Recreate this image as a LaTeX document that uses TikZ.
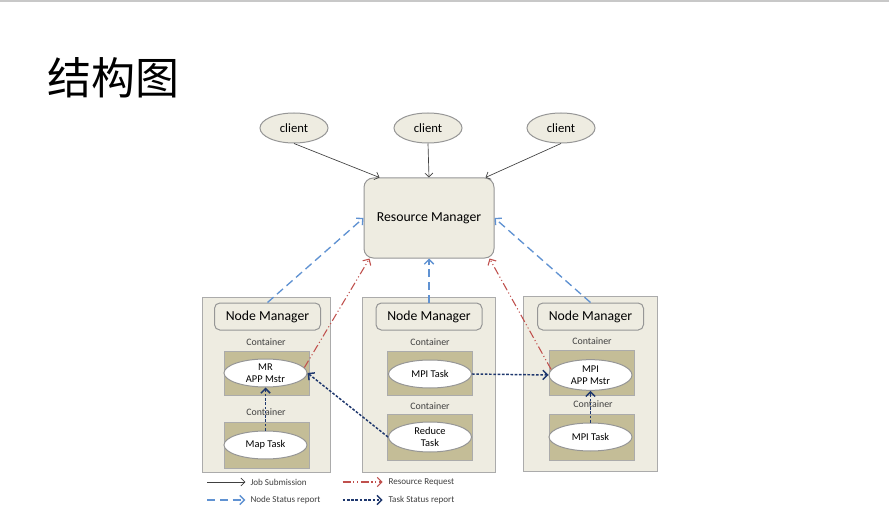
\documentclass[tikz,border=0pt]{standalone}
\usepackage{fontspec}
\setmainfont{Carlito}
\newfontfamily\cjk{Noto Sans CJK SC}
\usepackage{tikz}
\usetikzlibrary{shapes.geometric, arrows.meta}
\usetikzlibrary{positioning}
\definecolor{paneltan}{RGB}{238,236,225}
\definecolor{boxtan}{RGB}{196,189,151}
\definecolor{edgegray}{RGB}{150,150,150}
\definecolor{statusblue}{RGB}{96,146,210}
\definecolor{requestred}{RGB}{192,80,77}
\definecolor{tasknavy}{RGB}{31,56,110}
\definecolor{jobgray}{RGB}{64,64,64}
\tikzset{every picture/.style={line width=0.75pt}}
\tikzset{
  client/.style={ellipse, draw=edgegray, fill=paneltan, minimum width=51pt, minimum height=22.5pt, inner sep=0pt, font=\fontsize{9.5}{11}\selectfont},
  manager/.style={draw=edgegray, fill=paneltan, rounded corners=7pt, minimum width=97.5pt, minimum height=60pt, font=\fontsize{10.3}{12}\selectfont},
  nodebox/.style={draw=edgegray!80, fill=paneltan, line width=0.6pt, minimum height=131.25pt},
  nmhead/.style={draw=edgegray, fill=paneltan, rounded corners=4pt, minimum width=79.5pt, minimum height=20.25pt, font=\fontsize{10.3}{12}\selectfont},
  cbox/.style={draw=edgegray!80, fill=boxtan, minimum width=63.75pt, minimum height=33pt},
  task/.style={ellipse, draw=edgegray, fill=white, minimum width=62.25pt, minimum height=21pt, inner sep=0pt, align=center, font=\fontsize{7.8}{8.6}\selectfont},
  clabel/.style={inner sep=0pt, font=\fontsize{7.4}{8}\selectfont, text=jobgray},
  legend/.style={anchor=west, inner sep=0pt, font=\fontsize{6.8}{7}\selectfont, text=jobgray},
  job/.style={draw=jobgray, line width=0.5pt, -{Straight Barb[length=3pt,width=6pt]}},
  nstatus/.style={draw=statusblue, line width=1pt, dash pattern=on 6pt off 3.5pt, -{Straight Barb[length=3.5pt,width=7pt]}},
  request/.style={draw=requestred, line width=0.8pt, dash pattern=on 6pt off 2pt on 0.8pt off 2pt on 0.8pt off 2pt, -{Straight Barb[length=3.5pt,width=7pt]}},
  tstatus/.style={draw=tasknavy, line width=1.1pt, dash pattern=on 2pt off 1.2pt, -{Straight Barb[length=3.5pt,width=7pt]}},
}

\begin{document}
\begin{tikzpicture}[x=0.75pt,y=0.75pt,yscale=-1,xscale=1]
\useasboundingbox (0,0) rectangle (889,524);

%Shape: Rectangle [top rule]
\fill [white] (0,0) rectangle (889,524);
\fill [color={rgb, 255:red, 200; green, 200; blue, 200 }] (0,0) rectangle (889,2);

% Text Node
\node [anchor=west, inner sep=0pt, font=\cjk\fontsize{33}{33}\selectfont] (title) at (47,78) {结构图};

%Shape: Ellipse [clients]
\node [client] (cl1) at (294,128) {client};
\node [client] (cl2) at (428,128) {client};
\node [client] (cl3) at (561,128) {client};

%Shape: Rectangle [resource manager]
\node [manager] (rm) at (429,218) {Resource Manager};

%Shape: Rectangle [node manager frames]
\node [nodebox, minimum width=96pt] (nm1) at (266,384.5) {};
\node [nodebox, minimum width=99.75pt] (nm2) at (428.5,384.5) {};
\node [nodebox, minimum width=100.5pt] (nm3) at (590,384) {};

%Shape: Rectangle [node manager heads]
\node [nmhead] (nmh1) at (267.5,316.5) {Node Manager};
\node [nmhead] (nmh2) at (429,316.5) {Node Manager};
\node [nmhead] (nmh3) at (590.5,316.5) {Node Manager};

% Text Node
\node [clabel] (lbl1a) at (266,342) {Container};
\node [clabel] (lbl1b) at (266,412) {Container};
\node [clabel] (lbl2a) at (430,342) {Container};
\node [clabel] (lbl2b) at (430,406) {Container};
\node [clabel] (lbl3a) at (592,341) {Container};
\node [clabel] (lbl3b) at (593,404) {Container};

%Shape: Rectangle [containers]
\node [cbox] (ct1) at (266.5,373) {};
\node [cbox, minimum height=34.5pt] (cb1) at (266.5,445) {};
\node [cbox] (ct2) at (430,373) {};
\node [cbox, minimum height=34.5pt] (cb2) at (430,437) {};
\node [cbox, minimum height=33.75pt] (ct3) at (591.5,372.5) {};
\node [cbox, minimum height=34.5pt] (cb3) at (591.5,437) {};

%Shape: Ellipse [tasks]
\node [task] (mram) at (265.5,373) {MR\\APP Mstr};
\node [task] (maptask) at (265.5,445) {Map Task};
\node [task] (mpitask) at (430,374) {MPI Task};
\node [task, minimum height=22.5pt] (reduce) at (430,437) {Reduce\\Task};
\node [task, minimum height=23pt] (mpiam) at (590.5,375) {MPI\\APP Mstr};
\node [task] (mpitask2) at (590.5,437) {MPI Task};

%Straight Lines [job submission]
\draw [job] (cl1.south) -- ([xshift=12pt]rm.north west);
\draw [job] (cl2.south) -- (rm.north);
\draw [job] (cl3.south) -- ([xshift=-6.75pt]rm.north east);

%Straight Lines [node status]
\draw [nstatus] (nmh1.north) -- (rm.west);
\draw [nstatus] (nmh2.north) -- (rm.south);
\draw [nstatus] (nmh3.north) -- (rm.east);

%Straight Lines [resource request]
\draw [request] (mram.8) -- ([xshift=4.5pt]rm.south west);
\draw [request] (mpiam.172) -- ([xshift=-3.75pt]rm.south east);

%Straight Lines [task status]
\draw [tstatus] (maptask.north) -- (mram.south);
\draw [tstatus] (reduce.west) -- (mram.east);
\draw [tstatus] (mpitask.east) -- (mpiam.west);
\draw [tstatus] (mpitask2.north) -- (mpiam.south);

% Text Node [legend]
\node [legend] (lgjob) at (250,482) {Job Submission};
\node [legend] (lgreq) at (388,482) {Resource Request};
\node [legend] (lgnode) at (250,500) {Node Status report};
\node [legend] (lgtask) at (388,500) {Task Status report};
\draw [job] ([xshift=-32pt]lgjob.west) -- ([xshift=-3.5pt]lgjob.west);
\draw [request] ([xshift=-34pt]lgreq.west) -- ([xshift=-4pt]lgreq.west);
\draw [nstatus] ([xshift=-32pt]lgnode.west) -- ([xshift=-3.5pt]lgnode.west);
\draw [tstatus] ([xshift=-34pt]lgtask.west) -- ([xshift=-4pt]lgtask.west);

\end{tikzpicture}
\end{document}
